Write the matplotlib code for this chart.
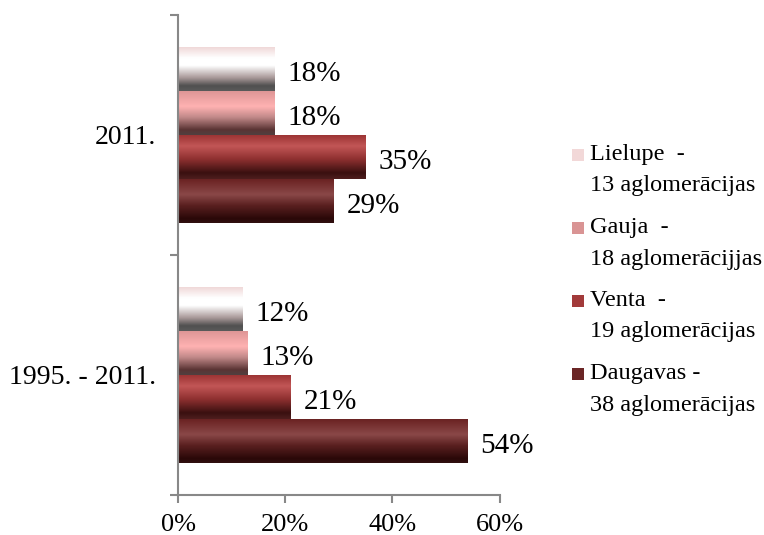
import numpy as np
import matplotlib
matplotlib.use("Agg")
import matplotlib.pyplot as plt
from matplotlib.colors import LinearSegmentedColormap
from matplotlib.patches import Rectangle

plt.rcParams['font.family'] = ['Liberation Serif', 'DejaVu Serif']

# Data
categories = ["1995. - 2011.", "2011."]
series = ["Lielupe  -\n13 aglomerācijas", "Gauja  -\n18 aglomerācijjas",
          "Venta  -\n19 aglomerācijas", "Daugavas -\n38 aglomerācijas"]
values = {
    "Lielupe": [12, 18],
    "Gauja": [13, 18],
    "Venta": [21, 35],
    "Daugavas": [54, 29],
}
legend_colors = ["#f2d8d8", "#d99494", "#a23a3a", "#6b2626"]

# vertical gradients, top -> bottom, for each series
gradients = [
    [(0.0, "#f0d8d8"), (0.25, "#ffffff"), (0.42, "#ffffff"), (0.7, "#a89898"), (0.88, "#505050"), (1.0, "#5a5a5a")],
    [(0.0, "#de9696"), (0.35, "#ffb2b2"), (0.6, "#c08888"), (0.88, "#5a3434"), (1.0, "#504040")],
    [(0.0, "#9c3434"), (0.25, "#c25656"), (0.55, "#8e3030"), (0.86, "#3a1010"), (1.0, "#4e1e1e")],
    [(0.0, "#6a2222"), (0.35, "#8a4848"), (0.6, "#5a2020"), (0.9, "#2a0808"), (1.0, "#301010")],
]

W, H = 764, 535
fig = plt.figure(figsize=(W / 100, H / 100), dpi=100)
ax = fig.add_axes([0.233, 0.075, 0.421, 0.897])

bar_h = 0.183
offsets = [1.5, 0.5, -0.5, -1.5]
for i, name in enumerate(values):
    cmap = LinearSegmentedColormap.from_list(name, gradients[i])
    grad = np.linspace(0, 1, 256).reshape(-1, 1)
    for c, v in enumerate(values[name]):
        yc = c + offsets[i] * bar_h
        ax.imshow(grad, cmap=cmap, aspect='auto', interpolation='bilinear',
                  extent=[0, v, yc - bar_h / 2, yc + bar_h / 2], origin='upper', zorder=2)
        ax.text(v + 2.4, yc - 0.02, f"{v}%", ha='left', va='center', fontsize=21, color='black')

ax.set_xlim(0, 60)
ax.set_ylim(-0.5, 1.5)

ax.set_xticks([0, 20, 40, 60])
ax.set_xticklabels(["0%", "20%", "40%", "60%"], fontsize=19)
ax.set_yticks([-0.5, 0.5, 1.5])
ax.set_yticklabels([])
ax.set_yticks([0, 1], minor=True)
ax.set_yticklabels(categories, minor=True, fontsize=20)
ax.tick_params(axis='y', which='minor', length=0, pad=16)
ax.tick_params(axis='both', which='major', length=6, width=1.5, color='#888888', direction='out')
ax.tick_params(axis='x', pad=8)

for s in ['top', 'right']:
    ax.spines[s].set_visible(False)
for s in ['left', 'bottom']:
    ax.spines[s].set_color('#888888')
    ax.spines[s].set_linewidth(1.5)

# legend drawn by hand: square marker next to the first line of each entry
leg_top = 155      # px from top, first line of first entry
leg_pitch = 73     # px between entries
line_gap = 31      # px between the two lines of an entry
for i, (lab, col) in enumerate(zip(series, legend_colors)):
    y0 = leg_top + i * leg_pitch
    first, second = lab.split("\n")
    fig.add_artist(Rectangle((572 / W, 1 - (y0 + 6) / H), 12 / W, 12 / H,
                             transform=fig.transFigure, facecolor=col, edgecolor='none'))
    fig.text(590 / W, 1 - y0 / H, first, fontsize=17.5, va='center', ha='left')
    fig.text(590 / W, 1 - (y0 + line_gap) / H, second, fontsize=17.5, va='center', ha='left')

plt.savefig("out.png", dpi=100)
